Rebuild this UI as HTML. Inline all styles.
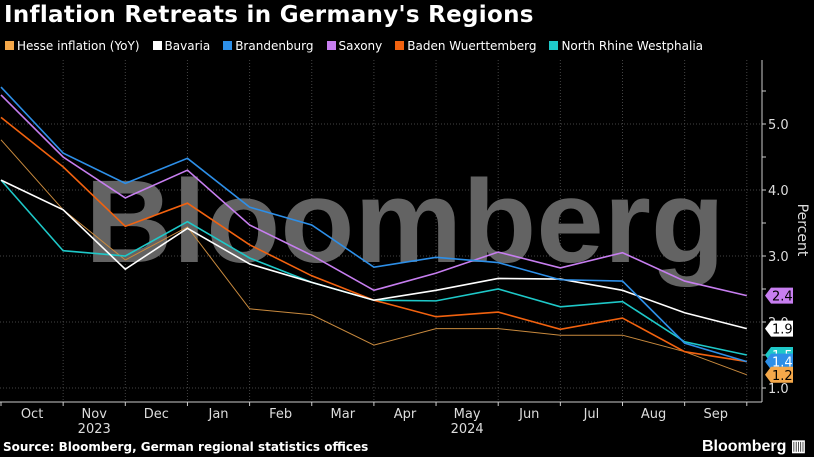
<!DOCTYPE html>
<html><head><meta charset="utf-8"><style>
body{margin:0;background:#000;width:814px;height:457px;overflow:hidden;font-family:"DejaVu Sans","Liberation Sans",sans-serif;color:#fff}
#title{position:absolute;left:4px;top:2px;font-size:23px;font-weight:bold;white-space:nowrap;letter-spacing:0.3px}
#legend{position:absolute;left:5px;top:39px;font-size:12px;white-space:nowrap}
.le{margin-right:13px}.sw{display:inline-block;width:9px;height:9px;margin-right:3px;vertical-align:0}
#src{position:absolute;left:3px;top:440px;font-size:12px;font-weight:bold}
#brand{position:absolute;right:8px;top:436px;font-size:16px;font-weight:bold;font-family:"Liberation Sans",sans-serif}
svg{position:absolute;left:0;top:0}
</style></head><body>
<div id="title">Inflation Retreats in Germany's Regions</div>
<div id="legend">
<span class="le"><span class="sw" style="background:#f5a84a"></span>Hesse inflation (YoY)</span><span class="le"><span class="sw" style="background:#fff"></span>Bavaria</span><span class="le"><span class="sw" style="background:#2d8fe8"></span>Brandenburg</span><span class="le"><span class="sw" style="background:#c77ef0"></span>Saxony</span><span class="le"><span class="sw" style="background:#f2620f"></span>Baden Wuerttemberg</span><span class="le"><span class="sw" style="background:#1ec8c8"></span>North Rhine Westphalia</span>
</div>
<svg id="chart" width="814" height="457"></svg>
<div id="src">Source: Bloomberg, German regional statistics offices</div>
<div id="brand">Bloomberg ▥</div>
<script>
const months=["Oct","Nov","Dec","Jan","Feb","Mar","Apr","May","Jun","Jul","Aug","Sep"];
const yTicks=[1.0,2.0,3.0,4.0,5.0];
const hesse=[4.76,3.7,2.94,3.44,2.2,2.11,1.65,1.9,1.9,1.8,1.8,1.55,1.2];
const bavaria=[4.15,3.7,2.8,3.42,2.88,2.6,2.33,2.48,2.66,2.65,2.48,2.14,1.9];
const brandenburg=[5.56,4.56,4.1,4.48,3.74,3.47,2.83,2.98,2.9,2.64,2.62,1.68,1.4];
const saxony=[5.44,4.5,3.88,4.3,3.47,3.01,2.48,2.74,3.06,2.82,3.05,2.62,2.4];
const baden=[5.1,4.35,3.45,3.8,3.17,2.7,2.33,2.08,2.15,1.89,2.06,1.55,1.4];
const nrw=[4.15,3.08,3.0,3.52,2.97,2.6,2.33,2.32,2.5,2.23,2.31,1.7,1.5];
const lastLabels=["2.4","1.9","1.5","1.4","1.2"];
const NS="http://www.w3.org/2000/svg";
const svg=document.getElementById('chart');
const X=i=>1+i*62.15, Y=v=>124+(5-v)*66;
function mk(t,a,p){const e=document.createElementNS(NS,t);for(const k in a)e.setAttribute(k,a[k]);(p||svg).appendChild(e);return e;}
yTicks.forEach(v=>{const l=mk('line',{x1:0,x2:762,y1:Y(v),y2:Y(v),stroke:'#444','stroke-dasharray':'1,2'});
});
for(let i=1;i<13;i++){const l=mk('line',{x1:X(i),x2:X(i),y1:60,y2:402,stroke:'#444','stroke-dasharray':'1,2'});
}
const wm=mk('text',{x:405,y:262,'text-anchor':'middle','font-size':118,'font-weight':'bold','font-family':'Liberation Sans,sans-serif',fill:'#636363','textLength':640,'lengthAdjust':'spacingAndGlyphs'});
wm.textContent='Bloomberg';
let a=mk('line',{x1:0,x2:762,y1:402,y2:402,stroke:'#ccc'});
a=mk('line',{x1:762,x2:762,y1:60,y2:402,stroke:'#ccc'});
for(let v=1;v<=5.5;v+=0.5){const t=mk('line',{x1:762,x2:766,y1:Y(v),y2:Y(v),stroke:'#ccc'});}
yTicks.forEach(v=>{const t=mk('text',{x:768,y:Y(v)+5,'font-size':13,fill:'#ddd'});t.textContent=v.toFixed(1);
});
const yt=mk('text',{x:798,y:230,'font-size':14,fill:'#ddd',transform:'rotate(90 798 230)','text-anchor':'middle'});
yt.textContent='Percent';
for(let i=0;i<13;i++){const t=mk('line',{x1:X(i),x2:X(i),y1:402,y2:406,stroke:'#ccc'});}
months.forEach((m,i)=>{const t=mk('text',{x:(X(i)+X(i+1))/2,y:418,'font-size':13,fill:'#ddd','text-anchor':'middle'});t.textContent=m;
});
[["2023",1],["2024",7]].forEach(([y,i])=>{const t=mk('text',{x:(X(i)+X(i+1))/2,y:433,'font-size':13,fill:'#ddd','text-anchor':'middle'});t.textContent=y;
});
const series=[[hesse,'#c98a3e',1,'hesse'],[nrw,'#1ec8c8',1.6,'nrw'],[baden,'#f2620f',1.6,'baden'],[bavaria,'#fff',1.6,'bavaria'],[saxony,'#c77ef0',1.6,'saxony'],[brandenburg,'#2d8fe8',1.6,'brandenburg']];
series.forEach(([d,c,w,n])=>{const p=mk('polyline',{points:d.map((v,i)=>X(i)+','+Y(v)).join(' '),fill:'none',stroke:c,'stroke-width':w});
});
const tags=[[saxony,'#c77ef0',lastLabels[0],'#000'],[bavaria,'#fff',lastLabels[1],'#000'],[nrw,'#1ec8c8',lastLabels[2],'#fff'],[brandenburg,'#2d8fe8',lastLabels[3],'#fff'],[hesse,'#f5a84a',lastLabels[4],'#000']];
tags.forEach(([d,c,lab,tc])=>{const y=Y(d[d.length-1]);const g=mk('g',{});

mk('path',{d:`M765 ${y} L771 ${y-8} L793 ${y-8} L793 ${y+8} L771 ${y+8} Z`,fill:c},g);
const t=mk('text',{x:772,y:y+5,'font-size':13,fill:tc},g);t.textContent=lab;});
</script>
</body></html>
